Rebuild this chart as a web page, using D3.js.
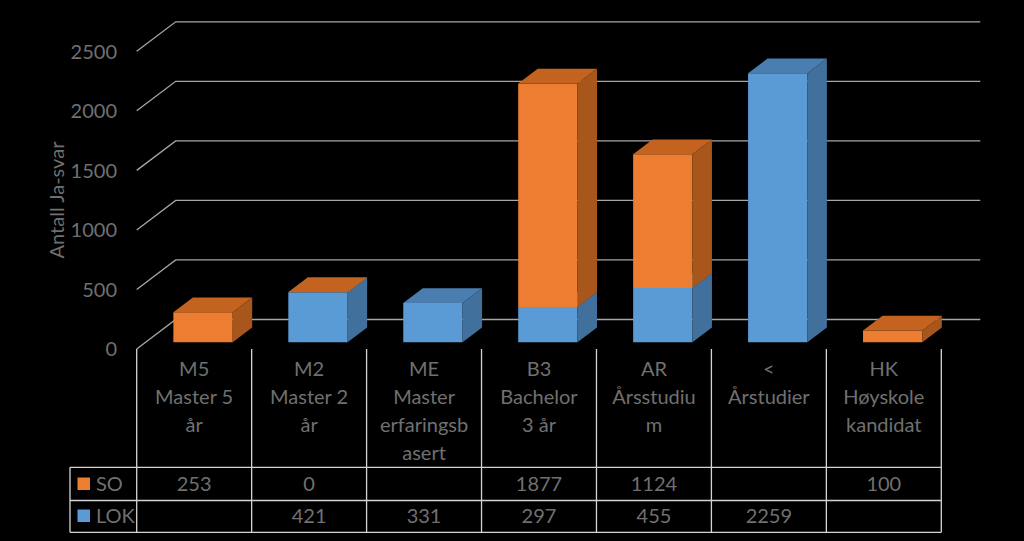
<!DOCTYPE html>
<html>
<head>
<meta charset="utf-8">
<script src="https://cdn.jsdelivr.net/npm/d3@7"></script>
<style>
  html, body { margin: 0; padding: 0; background: #000; }
  svg { display: block; }
</style>
</head>
<body>
<svg id="chart" width="1024" height="541"></svg>
<script>
// category labels, already wrapped the way the table shows them
const categories = ['M5', 'M2', 'ME', 'B3', 'AR', '<', 'HK'];
const categoryLines = [
  ['M5', 'Master 5', 'år'],
  ['M2', 'Master 2', 'år'],
  ['ME', 'Master', 'erfaringsb', 'asert'],
  ['B3', 'Bachelor', '3 år'],
  ['AR', 'Årsstudiu', 'm'],
  ['<', 'Årstudier'],
  ['HK', 'Høyskole', 'kandidat']
];
const seriesNames = ['SO', 'LOK'];
const soValues = [253, 0, null, 1877, 1124, null, 100];
const lokValues = [null, 421, 331, 297, 455, 2259, null];
const yTicks = [0, 500, 1000, 1500, 2000, 2500];
const yTitle = 'Antall Ja-svar';

const textColor = '#707070';
const gridColor = '#a6a6a6';
const tableColor = '#d4d4d4';
const fontFamily = 'Lato, "Open Sans", sans-serif';
const fontSize = '20px';

// colours per series: front, top, side
const faceColors = {
  SO: { front: '#ED7D31', top: '#C4631F', side: '#A8561B' },
  LOK: { front: '#5B9BD5', top: '#4A7EB0', side: '#41709C' }
};

const svg = d3.select('#chart');

const plotLeft = 136.7, plotRight = 941.3;
const floorY = 349;
const depthX = 39, depthY = 29.5; // oblique offset of the full floor depth
const barFront = 0.227, barBack = 0.727; // bar position along depth

const x = d3.scaleBand()
  .domain(categories)
  .range([plotLeft, plotRight]);

const y = d3.scaleLinear()
  .domain([0, 2500])
  .range([floorY, floorY - 297.7]);

// project a front-plane point back by depth d (0..1)
const proj = (px, py, d) => [px + d * depthX, py - d * depthY];

// back wall gridlines with the left diagonal
const grid = svg.append('g');
yTicks.forEach(t => {
  const a = proj(plotLeft, y(t), 0);
  const b = proj(plotLeft, y(t), 1);
  const c = proj(plotRight, y(t), 1);
  grid.append('polyline')
    .attr('points', [a, b, c].map(p => p.join(',')).join(' '))
    .attr('fill', 'none')
    .attr('stroke', gridColor)
    .attr('stroke-width', 1.3);
});

// y tick labels
svg.append('g')
  .selectAll('text')
  .data(yTicks)
  .enter()
  .append('text')
  .text(d => d)
  .attr('x', 117)
  .attr('y', d => y(d))
  .attr('dy', '0.36em')
  .style('text-anchor', 'end')
  .style('font-family', fontFamily)
  .style('font-size', fontSize)
  .style('fill', textColor);

svg.append('text')
  .text(yTitle)
  .attr('transform', 'translate(64,200) rotate(-90)')
  .style('text-anchor', 'middle')
  .style('font-family', fontFamily)
  .style('font-size', fontSize)
  .style('fill', textColor);

// stacked 3D bars: LOK at the bottom, SO on top
const barWidth = x.bandwidth() * 0.516;
const poly = pts => pts.map(p => p.join(',')).join(' ');
const bars = svg.append('g');

categories.forEach((cat, i) => {
  const x0 = x(cat) + (x.bandwidth() - barWidth) / 2;
  const x1 = x0 + barWidth;
  let base = 0;
  [['LOK', lokValues[i]], ['SO', soValues[i]]].forEach(([name, v]) => {
    if (v === null) return;
    const yb = y(base), yt = y(base + v);
    const c = faceColors[name];
    const g = bars.append('g');
    if (v > 0) {
      g.append('polygon')
        .attr('points', poly([proj(x0, yb, barFront), proj(x1, yb, barFront), proj(x1, yt, barFront), proj(x0, yt, barFront)]))
        .attr('fill', c.front);
      g.append('polygon')
        .attr('points', poly([proj(x1, yb, barFront), proj(x1, yb, barBack), proj(x1, yt, barBack), proj(x1, yt, barFront)]))
        .attr('fill', c.side);
    }
    g.append('polygon')
      .attr('points', poly([proj(x0, yt, barFront), proj(x1, yt, barFront), proj(x1, yt, barBack), proj(x0, yt, barBack)]))
      .attr('fill', c.top);
    base += v;
  });
});

// data table
const tableLeft = 70;
const headerBottom = 467.3, row1Bottom = 500.5, row2Bottom = 532.3;
const table = svg.append('g')
  .attr('stroke', tableColor)
  .attr('stroke-width', 1.3);

const bounds = categories.map(c => x(c)).concat([plotRight]);
bounds.forEach(bx => {
  table.append('line')
    .attr('x1', bx).attr('x2', bx)
    .attr('y1', floorY).attr('y2', row2Bottom);
});
table.append('line')
  .attr('x1', tableLeft).attr('x2', tableLeft)
  .attr('y1', headerBottom).attr('y2', row2Bottom);
[headerBottom, row1Bottom, row2Bottom].forEach(ly => {
  table.append('line')
    .attr('x1', tableLeft).attr('x2', plotRight)
    .attr('y1', ly).attr('y2', ly);
});

// header labels
const header = svg.append('g')
  .style('font-family', fontFamily)
  .style('font-size', fontSize)
  .style('fill', textColor)
  .style('text-anchor', 'middle');

categories.forEach((cat, i) => {
  categoryLines[i].forEach((line, j) => {
    header.append('text')
      .text(line)
      .attr('x', x(cat) + x.bandwidth() / 2)
      .attr('y', 376 + j * 28);
  });
});

// value rows with legend keys
const rows = [soValues, lokValues];
const rowBaselines = [491, 523];
rows.forEach((vals, r) => {
  const name = seriesNames[r];
  svg.append('rect')
    .attr('x', 77.5)
    .attr('y', rowBaselines[r] - 13.5)
    .attr('width', 12.5)
    .attr('height', 12.5)
    .attr('fill', faceColors[name].front);
  svg.append('text')
    .text(name)
    .attr('x', 96)
    .attr('y', rowBaselines[r])
    .style('font-family', fontFamily)
    .style('font-size', fontSize)
    .style('fill', textColor);
  vals.forEach((v, i) => {
    if (v === null) return;
    svg.append('text')
      .text(v)
      .attr('x', x(categories[i]) + x.bandwidth() / 2)
      .attr('y', rowBaselines[r])
      .style('text-anchor', 'middle')
      .style('font-family', fontFamily)
      .style('font-size', fontSize)
      .style('fill', textColor);
  });
});
</script>
</body>
</html>
